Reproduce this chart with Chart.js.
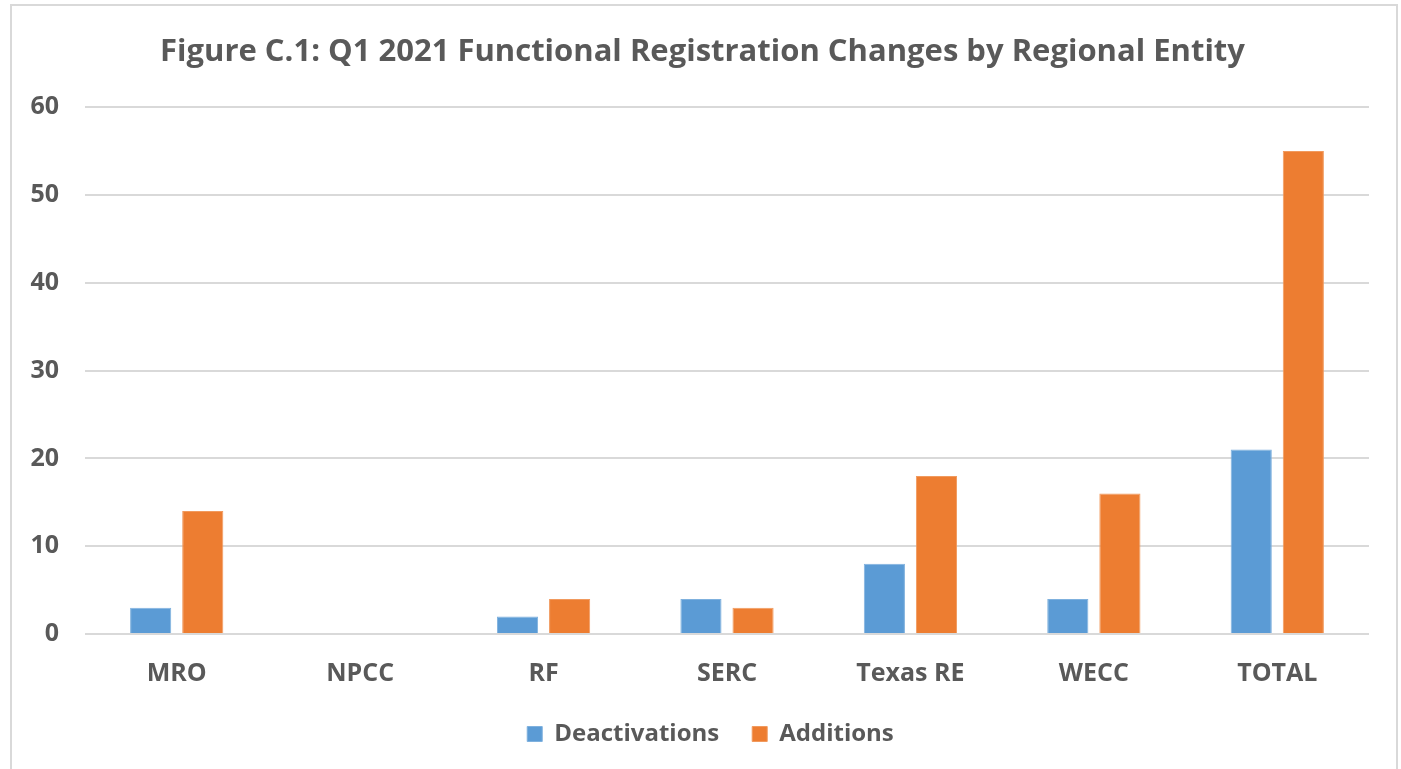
<!DOCTYPE html>
<html>
<head>
<meta charset="utf-8">
<script src="https://cdn.jsdelivr.net/npm/chart.js@4"></script>
<style>
  body { margin: 0; background: #ffffff; overflow: hidden; }
  #box {
    position: absolute; left: 10px; top: 4px;
    width: 1384px; height: 820px;
    border: 2px solid #d9d9d9; background: #ffffff;
  }
  #chart { position: absolute; left: 0; top: 0; }
</style>
</head>
<body>
<div id="box"><canvas id="chart" width="1384" height="765"></canvas></div>
<script>
// 데이터
const categories = ["MRO", "NPCC", "RF", "SERC", "Texas RE", "WECC", "TOTAL"];
const deactivations = [3, 0, 2, 4, 8, 4, 21];
const additions = [14, 0, 4, 3, 18, 16, 55];
const yTicks = [0, 10, 20, 30, 40, 50, 60];

const textColor = "#595959";
const fontFamily = "'Open Sans', 'Liberation Sans', sans-serif";

// 제목/범례를 원본처럼 살짝 오른쪽으로 이동
const nudgeBlocks = {
  id: "nudgeBlocks",
  afterLayout(chart) {
    const shift = (box, dx) => {
      if (!box) return;
      box.left += dx;
      box.right += dx;
    };
    shift(chart.titleBlock, 7);
    shift(chart.legend, 15);
  },
};

const ctx = document.getElementById("chart").getContext("2d");
new Chart(ctx, {
  type: "bar",
  data: {
    labels: categories,
    datasets: [
      {
        label: "Deactivations",
        data: deactivations,
        backgroundColor: "#5b9bd5",
        borderColor: "#7fb1de",
        borderWidth: 1,
        barPercentage: 0.79,
        categoryPercentage: 0.568,
      },
      {
        label: "Additions",
        data: additions,
        backgroundColor: "#ed7d31",
        borderColor: "#f19a5e",
        borderWidth: 1,
        barPercentage: 0.79,
        categoryPercentage: 0.568,
      },
    ],
  },
  options: {
    responsive: false,
    animation: false,
    layout: { padding: { left: 10, right: 27, top: 0, bottom: 15 } },
    plugins: {
      title: {
        display: true,
        text: "Figure C.1: Q1 2021 Functional Registration Changes by Regional Entity",
        color: textColor,
        font: { family: fontFamily, size: 31, weight: "bold" },
        padding: { top: 28, bottom: 36 },
      },
      legend: {
        position: "bottom",
        labels: {
          color: textColor,
          font: { family: fontFamily, size: 24, weight: "bold" },
          boxWidth: 15,
          boxHeight: 15,
          padding: 33,
        },
      },
      tooltip: { enabled: false },
    },
    scales: {
      x: {
        grid: { display: false },
        border: { display: false },
        ticks: {
          color: textColor,
          font: { family: fontFamily, size: 25, weight: "bold" },
          padding: 17,
        },
        afterFit(scale) { scale.height = 55; },
      },
      y: {
        min: 0,
        max: 60,
        afterBuildTicks(scale) { scale.ticks = yTicks.map((v) => ({ value: v })); },
        grid: { color: "#d9d9d9", lineWidth: 2, drawTicks: false },
        border: { display: false },
        ticks: {
          color: textColor,
          font: { family: fontFamily, size: 25, weight: "bold" },
          padding: 26,
        },
        afterFit(scale) { scale.width = 63; },
      },
    },
  },
  plugins: [nudgeBlocks],
});
</script>
</body>
</html>
